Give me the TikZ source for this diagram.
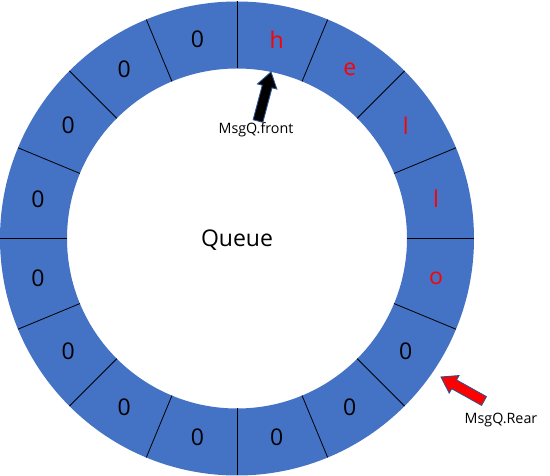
\documentclass[tikz,border=0pt]{standalone}
\usepackage{fontspec}
\setmainfont{Open Sans}
\usetikzlibrary{calc}
\definecolor{ringblue}{HTML}{4472C4}
\definecolor{edgeblue}{HTML}{2F528F}
\newcommand\myblockarrow[3]{%
  \draw[blockarrow,fill=#3] let \p1=($(#2)-(#1)$), \n1={atan2(\y1,\x1)}, \n2={veclen(\x1,\y1)} in
    [shift={(#1)},rotate=\n1] (0,-5) -- (\n2-15,-5) -- (\n2-15,-10) -- (\n2,0) -- (\n2-15,10) -- (\n2-15,5) -- (0,5) -- cycle;}
\begin{document}
\begin{tikzpicture}[x=1pt,y=1pt,
  divider/.style={draw=black,line width=0.8pt},
  cell/.style={font=\fontsize{23}{27}\selectfont, inner sep=0pt},
  zero/.style={cell,text=black},
  letter/.style={cell,text=red},
  ptrlabel/.style={font=\fontsize{14.3}{17}\selectfont, inner sep=0pt},
  blockarrow/.style={draw=edgeblue,line width=0.9pt,line join=miter}]
\useasboundingbox (-237,-237.5) rectangle (313,238.5);
\fill[ringblue,even odd rule] (0,0) circle[radius=237] (0,0) circle[radius=170];
\foreach \k in {0,...,15} \draw[divider] ({90+22.5*\k}:170) -- ({90+22.5*\k}:237);
\foreach \t [count=\i from 0] in {h,e,l,l,o} \node[letter] (c\i) at ({78.75-22.5*\i}:203) {\t};
\foreach \i in {5,...,15} \node[zero] (c\i) at ({78.75-22.5*\i}:203) {0};
\node[cell] (queue) at (0,-1.5) {Queue};
\node[ptrlabel] (front) at (19,108.5) {MsgQ.front};
\node[ptrlabel] (rear) at (264,-181.5) {MsgQ.Rear};
\coordinate (fronttail) at (21,117.5);
\coordinate (fronttip) at (34,166.5);
\coordinate (reartail) at (247,-162.5);
\coordinate (reartip) at (204,-138.5);
\myblockarrow{fronttail}{fronttip}{black}
\myblockarrow{reartail}{reartip}{red}
\end{tikzpicture}
\end{document}
